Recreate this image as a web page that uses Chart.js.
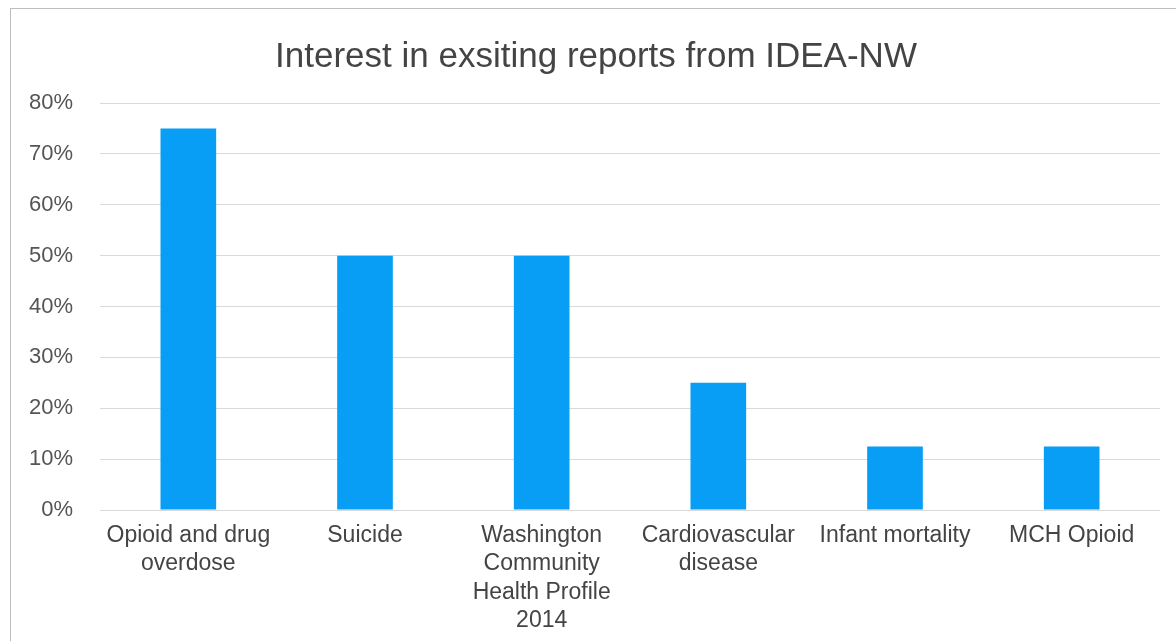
<!DOCTYPE html>
<html>
<head>
<meta charset="utf-8">
<script src="https://cdn.jsdelivr.net/npm/chart.js@4/dist/chart.umd.min.js"></script>
<style>
  html, body { margin: 0; padding: 0; background: #fff; }
  #wrap { position: relative; width: 1176px; height: 641px; }
  #frame { position: absolute; left: 10px; top: 8px; width: 1180px; height: 700px; border: 1px solid #bdbdbd; box-sizing: border-box; }
  canvas { position: absolute; left: 0; top: 0; }
</style>
</head>
<body>
<div id="wrap">
  <div id="frame"></div>
  <canvas id="chart" width="1176" height="641"></canvas>
</div>
<script>
// categories (multi-line, as wrapped in the original)
var labels = [
  ['Opioid and drug', 'overdose'],
  ['Suicide'],
  ['Washington', 'Community', 'Health Profile', '2014'],
  ['Cardiovascular', 'disease'],
  ['Infant mortality'],
  ['MCH Opioid']
];
var interest = [75, 50, 50, 25, 12.5, 12.5];
var yTicks = [0, 10, 20, 30, 40, 50, 60, 70, 80];

// the title in the original sits a little right of the canvas centre
var shiftTitle = {
  id: 'shiftTitle',
  afterLayout: function (chart) {
    if (chart.titleBlock) { chart.titleBlock.left += 16; chart.titleBlock.right += 16; }
  }
};

var ctx = document.getElementById('chart');
var myChart = new Chart(ctx, {
  type: 'bar',
  data: {
    labels: labels,
    datasets: [{
      label: 'Interest',
      data: interest,
      backgroundColor: 'rgb(8, 158, 245)',
      borderWidth: 0,
      barPercentage: 0.63,
      categoryPercentage: 0.5
    }]
  },
  plugins: [shiftTitle],
  options: {
    responsive: false,
    animation: false,
    layout: { padding: { left: 0, right: 16, top: 0, bottom: 0 } },
    plugins: {
      legend: { display: false },
      tooltip: { enabled: false },
      title: {
        display: true,
        text: 'Interest in exsiting reports from IDEA-NW',
        color: '#444',
        font: { family: 'Liberation Sans', size: 35, weight: 'normal' },
        padding: { top: 36, bottom: 25 }
      }
    },
    scales: {
      x: {
        grid: { display: false, drawTicks: false },
        border: { display: false },
        afterFit: function (axis) { axis.height = 131; },
        ticks: {
          color: '#444',
          maxRotation: 0,
          autoSkip: false,
          padding: 11,
          font: { family: 'Liberation Sans', size: 23, lineHeight: 1.24 }
        }
      },
      y: {
        min: 0,
        max: 80,
        afterBuildTicks: function (axis) {
          axis.ticks = yTicks.map(function (v) { return { value: v }; });
        },
        afterFit: function (axis) { axis.width = 100; },
        grid: { color: '#d9d9d9', drawTicks: false, lineWidth: 1 },
        border: { display: false },
        ticks: {
          color: '#555',
          padding: 27,
          font: { family: 'Liberation Sans', size: 22 },
          callback: function (v) { return v + '%'; }
        }
      }
    }
  }
});
</script>
</body>
</html>
